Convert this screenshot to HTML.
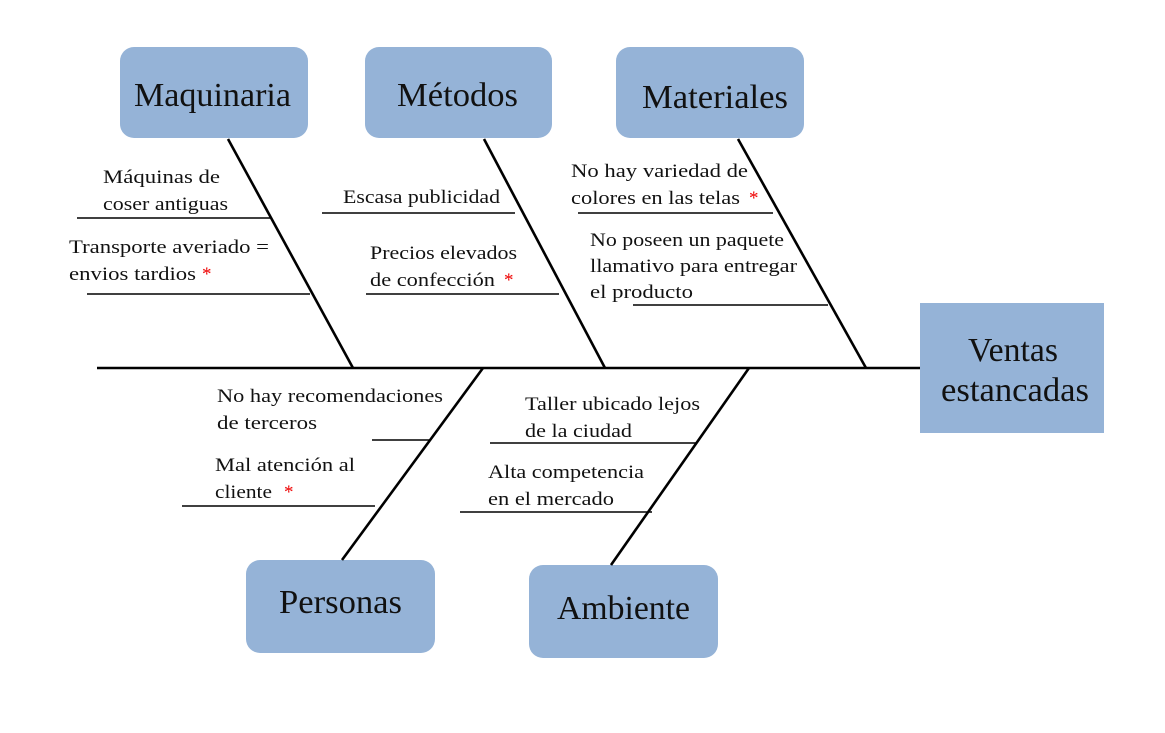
<!DOCTYPE html>
<html><head><meta charset="utf-8"><style>
body{margin:0;background:#fff;}
svg{display:block;}
text{font-family:"Liberation Serif",serif;fill:#111;}
.b{font-size:34px;}
.t{font-size:19px;}
.r{fill:#e00;font-size:19px;}
</style></head><body>
<svg width="1165" height="733" viewBox="0 0 1165 733">
<g fill="#95b3d7">
<rect x="120" y="47" width="188" height="91" rx="14"/>
<rect x="365" y="47" width="187" height="91" rx="14"/>
<rect x="616" y="47" width="188" height="91" rx="14"/>
<rect x="920" y="303" width="184" height="130"/>
<rect x="246" y="560" width="189" height="93" rx="14"/>
<rect x="529" y="565" width="189" height="93" rx="14"/>
</g>
<g stroke="#000" stroke-width="2.6" fill="none">
<line x1="97" y1="368" x2="920" y2="368"/>
<line x1="228" y1="139" x2="353" y2="368"/>
<line x1="484" y1="139" x2="605" y2="368"/>
<line x1="738" y1="139" x2="866" y2="368"/>
<line x1="483" y1="368" x2="342" y2="560"/>
<line x1="749" y1="368" x2="611" y2="565"/>
</g>
<g stroke="#000" stroke-width="1.6">
<line x1="77" y1="218" x2="270" y2="218"/>
<line x1="87" y1="294" x2="310" y2="294"/>
<line x1="322" y1="213" x2="515" y2="213"/>
<line x1="366" y1="294" x2="559" y2="294"/>
<line x1="578" y1="213" x2="773" y2="213"/>
<line x1="633" y1="305" x2="828" y2="305"/>
<line x1="372" y1="440" x2="430" y2="440"/>
<line x1="182" y1="506" x2="375" y2="506"/>
<line x1="490" y1="443" x2="696" y2="443"/>
<line x1="460" y1="512" x2="652" y2="512"/>
</g>
<g lengthAdjust="spacingAndGlyphs">
<text class="b" x="134" y="106" textLength="157" lengthAdjust="spacingAndGlyphs">Maquinaria</text>
<text class="b" x="397" y="106" textLength="121" lengthAdjust="spacingAndGlyphs">Métodos</text>
<text class="b" x="642" y="108" textLength="146" lengthAdjust="spacingAndGlyphs">Materiales</text>
<text class="b" x="968" y="361" textLength="90" lengthAdjust="spacingAndGlyphs">Ventas</text>
<text class="b" x="941" y="401" textLength="148" lengthAdjust="spacingAndGlyphs">estancadas</text>
<text class="b" x="279" y="613" textLength="123" lengthAdjust="spacingAndGlyphs">Personas</text>
<text class="b" x="557" y="619" textLength="133" lengthAdjust="spacingAndGlyphs">Ambiente</text>
<text class="t" x="103" y="183" textLength="117" lengthAdjust="spacingAndGlyphs">Máquinas de</text>
<text class="t" x="103" y="210" textLength="125" lengthAdjust="spacingAndGlyphs">coser antiguas</text>
<text class="t" x="69" y="253" textLength="200" lengthAdjust="spacingAndGlyphs">Transporte averiado =</text>
<text class="t" x="69" y="280" textLength="127" lengthAdjust="spacingAndGlyphs">envios tardios</text><text class="r" x="202" y="280">*</text>
<text class="t" x="343" y="203" textLength="157" lengthAdjust="spacingAndGlyphs">Escasa publicidad</text>
<text class="t" x="370" y="259" textLength="147" lengthAdjust="spacingAndGlyphs">Precios elevados</text>
<text class="t" x="370" y="286" textLength="125" lengthAdjust="spacingAndGlyphs">de confección</text><text class="r" x="504" y="286">*</text>
<text class="t" x="571" y="177" textLength="177" lengthAdjust="spacingAndGlyphs">No hay variedad de</text>
<text class="t" x="571" y="204" textLength="169" lengthAdjust="spacingAndGlyphs">colores en las telas</text><text class="r" x="749" y="204">*</text>
<text class="t" x="590" y="246" textLength="194" lengthAdjust="spacingAndGlyphs">No poseen un paquete</text>
<text class="t" x="590" y="272" textLength="207" lengthAdjust="spacingAndGlyphs">llamativo para entregar</text>
<text class="t" x="590" y="298" textLength="103" lengthAdjust="spacingAndGlyphs">el producto</text>
<text class="t" x="217" y="402" textLength="226" lengthAdjust="spacingAndGlyphs">No hay recomendaciones</text>
<text class="t" x="217" y="429" textLength="100" lengthAdjust="spacingAndGlyphs">de terceros</text>
<text class="t" x="215" y="471" textLength="140" lengthAdjust="spacingAndGlyphs">Mal atención al</text>
<text class="t" x="215" y="498" textLength="57" lengthAdjust="spacingAndGlyphs">cliente</text><text class="r" x="284" y="498">*</text>
<text class="t" x="525" y="410" textLength="175" lengthAdjust="spacingAndGlyphs">Taller ubicado lejos</text>
<text class="t" x="525" y="437" textLength="107" lengthAdjust="spacingAndGlyphs">de la ciudad</text>
<text class="t" x="488" y="478" textLength="156" lengthAdjust="spacingAndGlyphs">Alta competencia</text>
<text class="t" x="488" y="505" textLength="126" lengthAdjust="spacingAndGlyphs">en el mercado</text>
</g>
</svg>
</body></html>
